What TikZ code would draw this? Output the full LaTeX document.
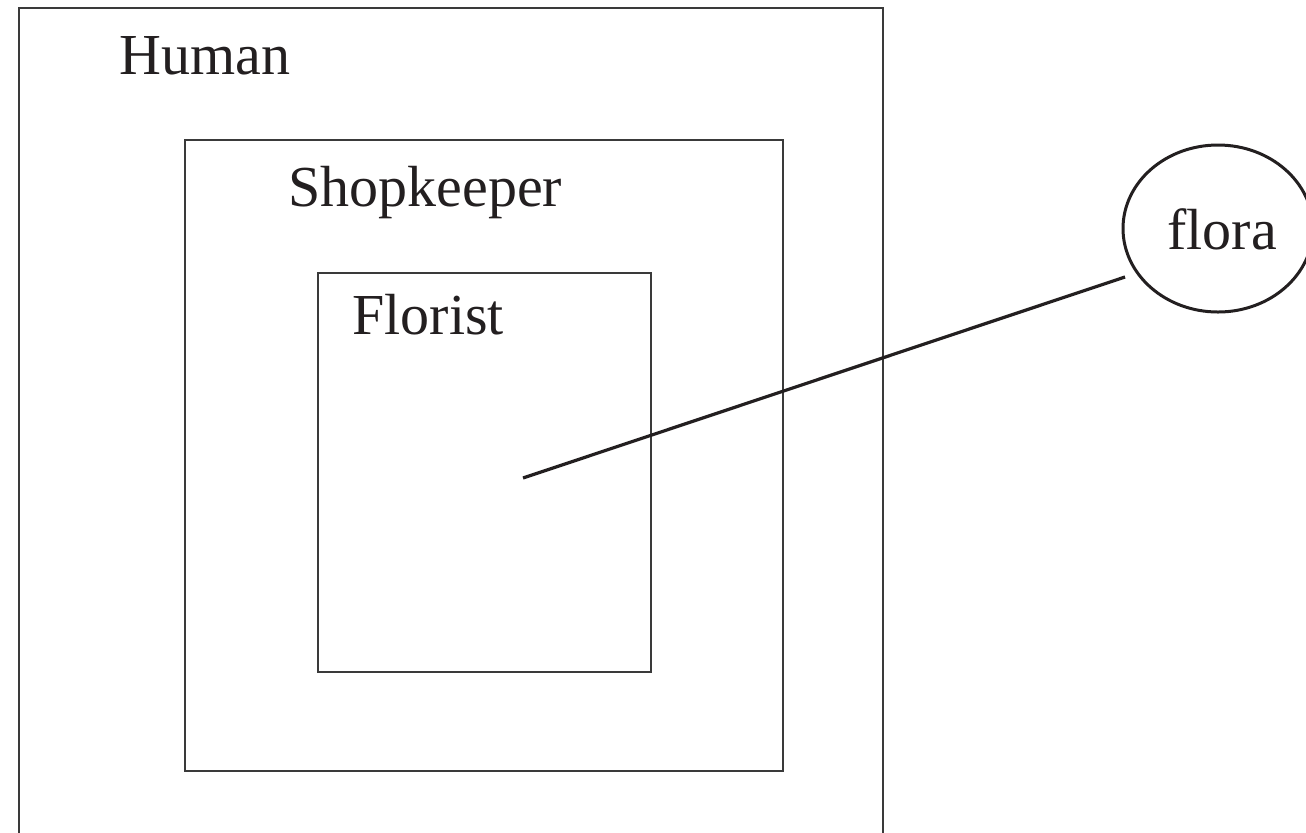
\documentclass[tikz,border=0pt]{standalone}
\usepackage{fontspec}
\setmainfont{Liberation Serif}
\usetikzlibrary{shapes.geometric}
\definecolor{ink}{HTML}{231F20}
\definecolor{boxline}{HTML}{3A3A3A}
\tikzset{
  px/.style={x={(0.5pt,0)},y={(0,-0.5pt)}},
  setbox/.style={draw=boxline,line width=1pt},
  label/.style={anchor=base west,inner sep=0pt,text=ink,font=\fontsize{29pt}{34pt}\selectfont},
  concept/.style={ellipse,draw=ink,line width=1.5pt,minimum width=95pt,minimum height=83.5pt,inner sep=0pt},
  link/.style={draw=ink,line width=1.6pt}
}
\begin{document}
\begin{tikzpicture}[px]
\useasboundingbox (0,0) rectangle (1306,832);
\clip (0,0) rectangle (1306,832);
\fill[white] (0,0) rectangle (1306,832);
% nested sets
\draw[setbox] (19,8) rectangle (883,900);
\draw[setbox] (185,140) rectangle (783,771);
\draw[setbox] (318,273) rectangle (651,672);
\node[label] (human) at (119,74) {Human};
\node[label] (shop) at (288,206) {Shopkeeper};
\node[label] (florist) at (352,334) {Florist};
% concept
\node[concept] (flora) at (1218,228.5) {};
\node[label,anchor=base] (floratext) at (1222,249) {flora};
\coordinate (inst) at (523,478);
\coordinate (tip) at (1125,277);
\draw[link] (inst) -- (tip);
\end{tikzpicture}
\end{document}
